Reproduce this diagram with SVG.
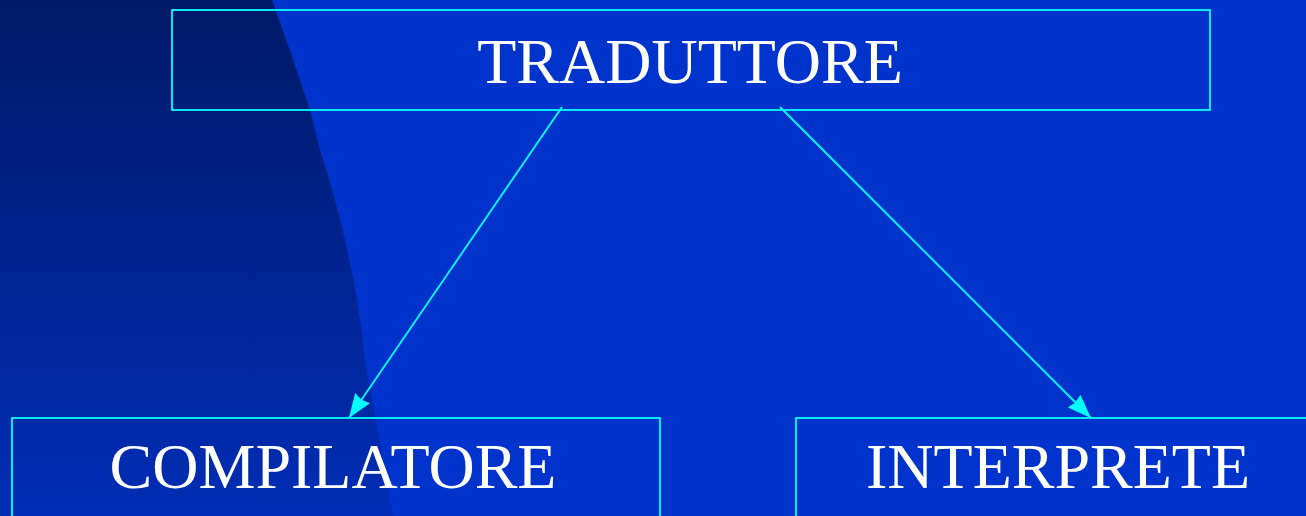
<svg xmlns="http://www.w3.org/2000/svg" width="1306" height="516" viewBox="0 0 1306 516">
<defs>
<linearGradient id="shade" x1="0" y1="0" x2="0" y2="1">
<stop offset="0" stop-color="#001966"/>
<stop offset="0.5" stop-color="#00238F"/>
<stop offset="1" stop-color="#002DB5"/>
</linearGradient>
<marker id="arr" viewBox="0 0 24 18" refX="24" refY="9" markerWidth="24" markerHeight="18" orient="auto" markerUnits="userSpaceOnUse">
<path d="M0,0 L24,9 L0,18 L2,9 z" fill="#00FFFF"/>
</marker>
<style>
.box{fill:none;stroke:#00FFFF;stroke-width:1.8}
.lbl{font-family:"Liberation Serif","Times New Roman",serif;font-size:64px;fill:#FFFFFF;text-anchor:middle}
.conn{stroke:#00FFFF;stroke-width:1.8;fill:none}
</style>
</defs>
<rect x="0" y="0" width="1306" height="516" fill="#0033CC"/>
<path d="M0,0 L272,0 Q292,55 310,110 L320,150 Q336,200 345,240 Q352,270 357,300 Q362,330 365,360 Q368,380 372,400 L393,516 L0,516 z" fill="url(#shade)"/>
<g id="traduttore">
<rect class="box" x="172" y="10" width="1038" height="100"/>
<text class="lbl" x="690" y="83">TRADUTTORE</text>
</g>
<g id="compilatore">
<rect class="box" x="12" y="418" width="648" height="120"/>
<text class="lbl" x="333" y="488">COMPILATORE</text>
</g>
<g id="interprete">
<rect class="box" x="796" y="418" width="540" height="120"/>
<text class="lbl" x="1058" y="488">INTERPRETE</text>
</g>
<g id="connectors">
<line class="conn" x1="562" y1="107" x2="349" y2="418" marker-end="url(#arr)"/>
<line class="conn" x1="780" y1="107" x2="1091" y2="418" marker-end="url(#arr)"/>
</g>
</svg>
